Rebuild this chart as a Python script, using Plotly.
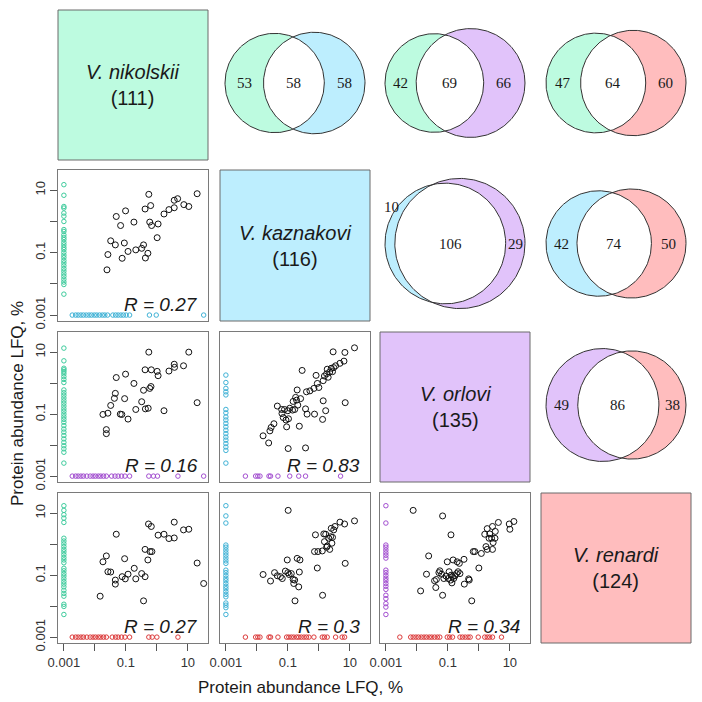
import math
import numpy as np
import plotly.graph_objects as go

W = H = 702

# ---------------- data ----------------
species = ["V. nikolskii", "V. kaznakovi", "V. orlovi", "V. renardi"]
species_totals = [111, 116, 135, 124]

# pairwise Venn counts (first species = row, second species = column)
venn_first = [0, 0, 0, 1, 1, 2]
venn_second = [1, 2, 3, 2, 3, 3]
venn_only_first = [53, 42, 47, 10, 42, 49]
venn_shared = [58, 69, 64, 106, 74, 86]
venn_only_second = [58, 66, 60, 29, 50, 38]

# scatter panels (row species on y, column species on x)
scatter_rows = [1, 2, 2, 3, 3, 3]
scatter_cols = [0, 0, 1, 0, 1, 2]
scatter_r = ["0.27", "0.16", "0.83", "0.27", "0.3", "0.34"]

# log10 protein abundance (%)
p1_x = [-1.61,-1.58,-1.49,-1.34,-1.31,-1.17,-1.12,-1.05,-1.01,-0.93,-0.74,-0.68,-0.49,-0.43,-0.38,-0.37,-0.29,-0.26,-0.23,-0.20,-0.17,0.01,0.04,0.23,0.39,0.56,0.56,0.67,0.87,1.03,1.30]
p1_y = [-1.55,-1.06,-0.62,-0.75,0.16,-0.13,-1.18,-0.69,0.34,-0.96,-0.02,-0.91,-0.86,-0.75,0.40,-1.17,-1.02,0.87,-0.02,0.51,-0.13,-0.52,-0.08,0.24,0.38,0.44,0.68,0.73,0.54,0.48,0.89]
p1_left = [1.18,0.84,0.48,0.43,0.27,0.17,0.00,-0.26,-0.32,-0.43,-0.51,-0.58,-0.67,-0.75,-0.83,-0.90,-0.99,-1.08,-1.16,-1.25,-1.33,-1.42,-1.51,-1.59,-1.68,-1.76,-1.85,-1.94,-2.02,-2.33]
p1_bottom = [-2.73,-2.62,-2.54,-2.45,-2.37,-2.28,-2.19,-2.11,-2.02,-1.94,-1.85,-1.76,-1.68,-1.59,-1.42,-1.33,-1.25,-1.16,-1.08,-0.99,-0.88,-0.24,-0.02,1.51]

p2_x = [-1.74,-1.63,-1.63,-1.58,-1.49,-1.37,-1.34,-1.31,-1.18,-1.13,-1.04,-1.01,-0.93,-0.74,-0.68,-0.49,-0.43,-0.38,-0.37,-0.28,-0.26,-0.23,-0.19,-0.18,0.01,0.04,0.23,0.39,0.56,0.57,0.86,1.03,1.30]
p2_y = [-1.01,-1.50,-1.63,-0.97,-0.72,-0.49,-0.33,0.18,-1.00,-1.01,-0.50,0.29,-1.16,-0.01,-0.85,-0.60,-0.23,0.43,-0.83,-0.81,1.00,-0.17,-0.11,0.43,0.38,0.24,-0.89,0.39,0.61,0.51,0.56,1.00,-0.63]
p2_left = [1.13,0.72,0.48,0.43,0.37,0.30,0.21,0.12,0.02,-0.22,-0.31,-0.39,-0.48,-0.57,-0.65,-0.74,-0.83,-0.91,-1.00,-1.09,-1.17,-1.26,-1.37,-1.48,-1.58,-1.69,-1.80,-1.91,-2.02,-2.12,-2.23,-2.58]
p2_bottom = [-2.73,-2.62,-2.54,-2.45,-2.37,-2.26,-2.15,-2.06,-1.98,-1.89,-1.81,-1.72,-1.63,-1.46,-1.35,-1.25,-1.14,-1.03,-0.88,-0.26,-0.11,0.02,0.68,1.51]

p3_x = [-1.80,-1.62,-1.58,-1.54,-1.45,-1.34,-1.20,-1.19,-1.15,-1.11,-1.06,-1.04,-1.00,-0.98,-0.99,-0.94,-0.85,-0.83,-0.78,-0.75,-0.72,-0.70,-0.68,-0.63,-0.59,-0.54,-0.43,-0.40,-0.38,-0.29,-0.14,-0.16,-0.09,-0.05,0.00,0.12,0.14,0.14,0.18,0.22,0.25,0.27,0.30,0.35,0.40,0.44,0.48,0.54,0.46,0.68,0.81,0.84,0.85,1.15,-0.43]
p3_y = [-1.70,-1.93,-1.54,-1.43,-1.31,-0.74,-0.85,-0.98,-1.11,-0.85,-1.19,-1.41,-0.89,-1.15,-2.11,-0.81,-0.87,-0.59,-0.85,-0.46,-0.55,-0.22,-0.71,-1.39,-0.50,0.41,-0.83,-0.28,-1.00,-0.25,-1.00,-0.17,0.25,-0.01,-0.14,-1.17,-0.57,0.08,0.23,-0.89,0.30,0.45,0.19,0.36,0.48,0.37,0.50,0.56,1.01,0.64,0.71,0.99,-0.63,1.14,-2.09]
p3_left = [0.26,0.02,-0.17,-0.28,-0.38,-0.85,-0.96,-1.09,-1.19,-1.30,-1.41,-1.52,-1.63,-1.74,-1.84,-1.95,-2.06,-2.17,-2.58]
p3_bottom = [-2.37,-2.04,-1.97,-1.90,-1.61,-1.56,-1.32,-0.94,-0.65,-0.43,0.70]

p4_x = [-1.83,-1.74,-1.63,-1.58,-1.49,-1.34,-1.34,-1.31,-1.12,-1.04,-1.02,-0.93,-0.73,-0.68,-0.49,-0.43,-0.38,-0.38,-0.29,-0.27,-0.22,-0.18,-0.16,0.04,0.23,0.39,0.56,0.56,0.86,1.03,1.30,1.51]
p4_y = [-1.68,-0.57,-0.38,-0.89,-0.90,-1.16,-1.29,0.32,-1.05,-0.47,-1.12,-0.97,-0.78,-1.12,-0.95,-1.83,-1.05,-0.17,-0.51,0.65,-0.24,0.57,-0.24,0.29,0.32,0.18,0.20,0.71,0.46,0.48,-0.61,-1.27]
p4_left = [1.24,1.09,0.95,0.84,0.70,0.19,0.10,0.01,-0.08,-0.17,-0.25,-0.34,-0.43,-0.51,-0.60,-0.78,-0.86,-0.95,-1.03,-1.12,-1.21,-1.29,-1.38,-1.49,-1.59,-1.68,-1.94,-2.01,-2.27]
p4_bottom = [-2.73,-2.62,-2.54,-2.45,-2.37,-2.26,-2.15,-2.06,-1.98,-1.89,-1.81,-1.72,-1.63,-1.44,-1.33,-1.25,-1.14,-1.03,-0.88,-0.26,-0.15,0.00,0.68]

p5_x = [-1.80,-1.56,-1.43,-1.34,-1.24,-1.18,-1.08,-1.02,-1.00,-0.96,-0.89,-0.83,-0.81,-0.78,-0.77,-0.70,-0.63,-0.61,-0.65,-0.99,-0.05,-0.14,-0.03,-0.11,0.12,0.11,0.16,0.22,0.18,0.27,0.32,0.35,0.38,0.42,0.40,0.44,0.48,0.52,0.68,0.83,0.85,1.15,0.25]
p5_y = [-0.98,-1.19,-0.92,-1.02,-1.05,-1.11,-0.87,-0.51,-0.92,-0.98,-0.95,-1.14,-1.27,-1.16,-1.83,-0.46,-0.90,-0.51,-1.38,1.09,-0.77,-0.24,-0.24,0.30,-1.65,-0.22,0.33,0.32,0.08,-0.06,0.19,-0.17,0.24,0.03,0.51,0.22,0.46,0.57,0.71,0.65,-0.62,0.75,-0.10]
p5_left = [1.24,0.91,0.68,-0.03,-0.10,-0.19,-0.28,-0.36,-0.45,-0.54,-0.62,-0.84,-0.92,-1.01,-1.10,-1.18,-1.27,-1.36,-1.44,-1.53,-1.62,-1.70,-1.90,-1.97,-2.05,-2.27]
p5_bottom = [-2.37,-2.04,-1.97,-1.90,-1.61,-1.56,-1.32,-1.04,-0.97,-0.89,-0.81,-0.72,-0.65,-0.57,-0.48,-0.40,-0.32,-0.16,0.11,0.18,0.27,0.54,0.75,0.83]

p6_x = [-2.12,-1.88,-1.69,-1.62,-1.43,-1.39,-1.37,-1.29,-1.26,-1.20,-1.17,-1.13,-1.06,-1.02,-0.99,-0.96,-0.91,-0.89,-0.87,-0.85,-0.83,-0.81,-0.77,-0.72,-0.70,-0.67,-0.63,-0.61,-1.17,-0.90,-0.48,-0.47,-0.31,-0.33,-0.23,-0.18,-0.13,0.00,0.08,0.19,0.23,0.27,0.27,0.33,0.35,0.41,0.44,0.44,0.46,0.52,0.53,0.63,0.98,1.00,1.13]
p6_y = [1.09,-1.51,-0.97,-0.38,-1.18,-1.40,-1.14,-0.92,-0.86,-0.97,-1.65,-1.11,-1.03,-0.57,-1.11,-0.89,-1.16,-1.00,-1.25,-1.05,-0.51,-1.11,-1.02,-0.95,-0.57,-0.89,-0.62,-0.95,0.91,0.30,-0.49,-1.29,-1.16,-1.12,-1.83,-0.24,-0.24,-0.77,-0.30,0.32,-0.08,0.50,-0.17,0.19,0.33,0.19,-0.17,0.57,0.05,0.19,0.41,0.70,0.65,0.48,0.73]
p6_left = [1.24,0.68,-0.03,-0.10,-0.19,-0.28,-0.36,-0.45,-0.84,-0.92,-1.01,-1.10,-1.18,-1.27,-1.36,-1.46,-1.65,-1.76,-1.92,-2.03,-2.27]
p6_bottom = [-2.55,-2.20,-2.12,-2.03,-1.95,-1.86,-1.77,-1.69,-1.60,-1.52,-1.43,-1.34,-1.26,-1.02,-0.94,-0.85,-0.61,-0.53,-0.44,-0.35,-0.28,-0.02,0.19,0.27,0.35,0.44,0.73]

panel_x = [p1_x, p2_x, p3_x, p4_x, p5_x, p6_x]
panel_y = [p1_y, p2_y, p3_y, p4_y, p5_y, p6_y]
panel_left = [p1_left, p2_left, p3_left, p4_left, p5_left, p6_left]
panel_bottom = [p1_bottom, p2_bottom, p3_bottom, p4_bottom, p5_bottom, p6_bottom]

tick_vals = [0.001, 0.01, 0.1, 1, 10]
tick_text = ["0.001", "", "0.1", "", "10"]
absent_value = 0.001

# ---------------- styles / layout ----------------
box_colors = ["#BDFBE0", "#BDEEFE", "#E1C3FA", "#FFBDBE"]
strip_colors = ["#3DCB9C", "#3FB2D6", "#A24ED0", "#DC3A3A"]
col_px = [(58, 208), (220, 370), (380, 530), (541, 691)]
row_px = [(10, 160), (170, 321), (332, 482), (493, 643)]
LOG_RANGE = [-3.19, 1.65]
SANS = "Liberation Sans, Arial, sans-serif"
SERIF = "Liberation Serif, Times New Roman, serif"
PANEL_LINE = "#7a7a7a"

fig = go.Figure()
layout = dict(template="none", width=W, height=H, margin=dict(l=0, r=0, t=0, b=0, pad=0),
              paper_bgcolor="white", plot_bgcolor="rgba(0,0,0,0)",
              showlegend=False)

for k in range(6):
    r, c = scatter_rows[k], scatter_cols[k]
    idx = k + 1
    xa = dict(domain=[col_px[c][0] / W, col_px[c][1] / W], anchor=f"y{idx}",
              type="log", range=LOG_RANGE, showgrid=False, zeroline=False, automargin=False,
              showline=True, mirror=True, linecolor=PANEL_LINE, linewidth=1)
    ya = dict(domain=[1 - row_px[r][1] / H, 1 - row_px[r][0] / H], anchor=f"x{idx}",
              type="log", range=LOG_RANGE, showgrid=False, zeroline=False, automargin=False,
              showline=True, mirror=True, linecolor=PANEL_LINE, linewidth=1)
    if r == 3:
        xa.update(ticks="outside", ticklen=7, tickcolor="#555", tickwidth=1,
                  tickvals=tick_vals, ticktext=tick_text,
                  tickfont=dict(family=SANS, size=13, color="#333"))
    else:
        xa.update(showticklabels=False, ticks="")
    if c == 0:
        ya.update(ticks="outside", ticklen=7, tickcolor="#555", tickwidth=1,
                  tickvals=tick_vals, ticktext=tick_text, tickangle=-90,
                  tickfont=dict(family=SANS, size=13, color="#333"))
    else:
        ya.update(showticklabels=False, ticks="")
    layout["xaxis" if idx == 1 else f"xaxis{idx}"] = xa
    layout["yaxis" if idx == 1 else f"yaxis{idx}"] = ya

    xr = f"x{idx}" if idx > 1 else "x"
    yr = f"y{idx}" if idx > 1 else "y"
    fig.add_trace(go.Scatter(
        x=[absent_value] * len(panel_left[k]), y=[10 ** v for v in panel_left[k]],
        mode="markers", xaxis=xr, yaxis=yr, hoverinfo="skip",
        marker=dict(symbol="circle-open", size=4.5, color=strip_colors[c], line=dict(width=1))))
    fig.add_trace(go.Scatter(
        x=[10 ** v for v in panel_bottom[k]], y=[absent_value] * len(panel_bottom[k]),
        mode="markers", xaxis=xr, yaxis=yr, hoverinfo="skip",
        marker=dict(symbol="circle-open", size=4.5, color=strip_colors[r], line=dict(width=1))))
    fig.add_trace(go.Scatter(
        x=[10 ** v for v in panel_x[k]], y=[10 ** v for v in panel_y[k]],
        mode="markers", xaxis=xr, yaxis=yr, hoverinfo="skip",
        marker=dict(symbol="circle-open", size=6, color="#111", line=dict(width=1))))

# overlay pixel axis for boxes, Venns, texts
layout["xaxis7"] = dict(domain=[0, 1], range=[0, W], visible=False, fixedrange=True,
                        anchor="y7", automargin=False)
layout["yaxis7"] = dict(domain=[0, 1], range=[H, 0], visible=False, fixedrange=True,
                        anchor="x7", automargin=False)

shapes = []
annotations = []

for i in range(4):
    x0, x1 = col_px[i]
    y0, y1 = row_px[i]
    shapes.append(dict(type="rect", xref="x7", yref="y7", x0=x0, x1=x1, y0=y0, y1=y1,
                       fillcolor=box_colors[i], line=dict(color="#6a6a6a", width=1), layer="below"))
    annotations.append(dict(xref="x7", yref="y7", x=(x0 + x1) / 2, y=(y0 + y1) / 2,
                            text=f"<i>{species[i]}</i><br>({species_totals[i]})",
                            showarrow=False, xanchor="center", yanchor="middle",
                            font=dict(family=SANS, size=20, color="#1a1a1a")))


def lens_area(r1, r2, d):
    if d >= r1 + r2:
        return 0.0
    if d <= abs(r1 - r2):
        return math.pi * min(r1, r2) ** 2
    a1 = r1 * r1 * math.acos((d * d + r1 * r1 - r2 * r2) / (2 * d * r1))
    a2 = r2 * r2 * math.acos((d * d + r2 * r2 - r1 * r1) / (2 * d * r2))
    a3 = 0.5 * math.sqrt((-d + r1 + r2) * (d + r1 - r2) * (d - r1 + r2) * (d + r1 + r2))
    return a1 + a2 - a3


def solve_d(r1, r2, target):
    lo, hi = abs(r1 - r2) + 1e-9, r1 + r2
    for _ in range(100):
        mid = (lo + hi) / 2
        if lens_area(r1, r2, mid) > target:
            lo = mid
        else:
            hi = mid
    return (lo + hi) / 2


VENN_WIDTH = 140
t = np.linspace(0, 2 * np.pi, 241)
for i in range(6):
    a, b = venn_first[i], venn_second[i]
    A = venn_only_first[i] + venn_shared[i]
    B = venn_only_second[i] + venn_shared[i]
    r1, r2 = math.sqrt(A / math.pi), math.sqrt(B / math.pi)
    d = solve_d(r1, r2, venn_shared[i])
    left, right = min(-r1, d - r2), max(r1, d + r2)
    s = VENN_WIDTH / (right - left)
    cx = (col_px[b][0] + col_px[b][1]) / 2
    cy = (row_px[a][0] + row_px[a][1]) / 2 - 2
    ox = cx - s * (left + right) / 2

    def P(xs, ys):
        return list(ox + s * np.asarray(xs)), list(cy + s * np.asarray(ys))

    ax, ay = P(r1 * np.cos(t), r1 * np.sin(t))
    bx, by = P(d + r2 * np.cos(t), r2 * np.sin(t))
    xi = (d * d + r1 * r1 - r2 * r2) / (2 * d)
    yi = math.sqrt(max(r1 * r1 - xi * xi, 0))
    th1 = math.atan2(yi, xi)
    th2 = math.atan2(yi, d - xi)
    ta = np.linspace(-th1, th1, 150)
    tb = np.linspace(math.pi - th2, math.pi + th2, 150)
    lx, ly = P(np.concatenate([r1 * np.cos(ta), d + r2 * np.cos(tb)]),
               np.concatenate([r1 * np.sin(ta), r2 * np.sin(tb)]))
    for xs, ys, col in [(ax, ay, box_colors[a]), (bx, by, box_colors[b]), (lx, ly, "white")]:
        fig.add_trace(go.Scatter(x=xs, y=ys, mode="lines", fill="toself", fillcolor=col,
                                 line=dict(width=0, color=col), xaxis="x7", yaxis="y7",
                                 hoverinfo="skip"))
    for xs, ys in [(ax, ay), (bx, by)]:
        fig.add_trace(go.Scatter(x=xs, y=ys, mode="lines", line=dict(width=1, color="#333"),
                                 xaxis="x7", yaxis="y7", hoverinfo="skip"))
    wl = s * (d - r2 + r1)
    wr = s * (d + r2 - r1)
    xl = ox + s * (-r1 + d - r2) / 2
    yl = cy
    if wl < 15:
        xl += 2
        yl = cy - 0.6 * s * r1
    xm = ox + s * (d - r2 + r1) / 2
    xr_ = ox + s * (r1 + d + r2) / 2
    yr_ = cy
    if wr < 15:
        xr_ -= 2
        yr_ = cy - 0.6 * s * r2
    for x, y, txt in [(xl, yl, venn_only_first[i]), (xm, cy, venn_shared[i]), (xr_, yr_, venn_only_second[i])]:
        annotations.append(dict(xref="x7", yref="y7", x=x, y=y, text=str(txt), showarrow=False,
                                xanchor="center", yanchor="middle",
                                font=dict(family=SERIF, size=15, color="#1a1a1a")))

for k in range(6):
    r, c = scatter_rows[k], scatter_cols[k]
    annotations.append(dict(xref="x7", yref="y7", x=col_px[c][1] - 8, y=row_px[r][1] - 17,
                            text=f"<i>R = {scatter_r[k]}</i>", showarrow=False,
                            xanchor="right", yanchor="middle",
                            font=dict(family=SANS, size=19, color="#1a1a1a")))

annotations.append(dict(xref="x7", yref="y7", x=300, y=687, text="Protein abundance LFQ, %",
                        showarrow=False, xanchor="center", yanchor="middle",
                        font=dict(family=SANS, size=17, color="#1a1a1a")))
annotations.append(dict(xref="x7", yref="y7", x=17, y=404, text="Protein abundance LFQ, %",
                        showarrow=False, xanchor="center", yanchor="middle", textangle=-90,
                        font=dict(family=SANS, size=17, color="#1a1a1a")))

layout["shapes"] = shapes
layout["annotations"] = annotations
fig.update_layout(**layout)
fig.write_html("out.html", config={"displayModeBar": False},
               post_script="document.body.style.margin='0';document.body.style.overflow='hidden';")
